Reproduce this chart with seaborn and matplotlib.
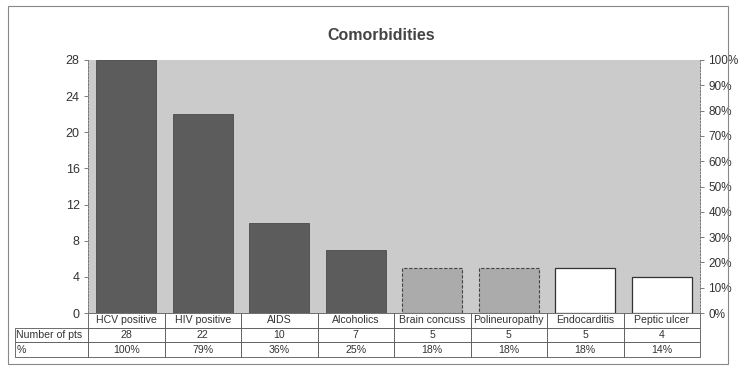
import numpy as np
import pandas as pd
import matplotlib
matplotlib.use("Agg")
import matplotlib.pyplot as plt
import seaborn as sns
from matplotlib.patches import Rectangle
from matplotlib.ticker import PercentFormatter

categories = ["HCV positive", "HIV positive", "AIDS", "Alcoholics", "Brain concuss",
              "Polineuropathy", "Endocarditis", "Peptic ulcer"]
n_pts = [28, 22, 10, 7, 5, 5, 5, 4]
pct_labels = ["100%", "79%", "36%", "25%", "18%", "18%", "18%", "14%"]
bar_colors = ["#5c5c5c", "#5c5c5c", "#5c5c5c", "#5c5c5c", "#ababab", "#ababab", "#ffffff", "#ffffff"]

sns.set_style("white")
plt.rcParams["font.family"] = ["Liberation Sans", "DejaVu Sans"]

df = pd.DataFrame({"cat": categories, "n": n_pts})

fig = plt.figure(figsize=(7.44, 3.82), dpi=100)
ax = fig.add_axes([88/744, 1-313/382, 612/744, 253/382])
ax.set_facecolor("#cbcbcb")

sns.barplot(data=df, x="cat", y="n", hue="cat", palette=bar_colors, legend=False,
            width=0.78, ax=ax, saturation=1)
for i, p in enumerate(ax.patches):
    if i < 4:
        p.set_edgecolor("#4a4a4a"); p.set_linewidth(0.6)
    elif i < 6:
        p.set_edgecolor("#444444"); p.set_linewidth(0.8); p.set_linestyle((0, (3, 1.5)))
    else:
        p.set_edgecolor("#333333"); p.set_linewidth(0.9)

ax.set_ylim(0, 28)
ax.set_yticks(np.arange(0, 29, 4))
ax.set_xlabel(""); ax.set_ylabel("")
ax.set_xticks([])
for s in ["top", "bottom", "right"]:
    ax.spines[s].set_visible(False)
ax.spines["left"].set_color("#777777")
ax.spines["left"].set_linestyle((0, (2, 1.5)))
ax.spines["left"].set_linewidth(0.7)
ax.tick_params(axis="y", left=True, length=3, width=0.6, color="#666666",
               labelsize=9, labelcolor="#333333", pad=3)

ax2 = ax.twinx()
ax2.set_ylim(0, 1)
ax2.set_yticks(np.arange(0, 1.01, 0.1))
ax2.yaxis.set_major_formatter(PercentFormatter(1.0, decimals=0))
for s in ["top", "bottom", "left"]:
    ax2.spines[s].set_visible(False)
ax2.spines["right"].set_color("#777777")
ax2.spines["right"].set_linestyle((0, (2, 1.5)))
ax2.spines["right"].set_linewidth(0.7)
ax2.tick_params(axis="y", right=True, length=3, width=0.6, color="#666666",
                labelsize=8.5, labelcolor="#333333", pad=3)

cell_text = [["Number of pts"] + [str(v) for v in n_pts], ["%"] + pct_labels]
tbl = ax.table(cellText=cell_text, colLabels=[""] + categories,
               colWidths=[73/612] + [1/8]*8,
               bbox=[-73/612, -44/253, 1 + 73/612, 44/253], cellLoc="center")
tbl.auto_set_font_size(False)
tbl.set_fontsize(7.6)
for (r, c), cell in tbl.get_celld().items():
    cell.set_edgecolor("#555555")
    cell.set_linewidth(0.6)
    cell.get_text().set_color("#333333")
    if c == 0 and r > 0:
        cell.get_text().set_ha("left")
        cell._loc = "left"
        cell.PAD = 0.02
    if r == 0 and c == 0:
        cell.visible_edges = ""

fig.text(0.513, 1-36/382, "Comorbidities", ha="center", va="center",
         fontsize=11.5, fontweight="bold", color="#444444")
fig.add_artist(Rectangle((8/744, 1-364/382), 720/744, 358/382, transform=fig.transFigure,
                         fill=False, edgecolor="#888888", linewidth=0.8))

fig.savefig("out.png", dpi=100)
